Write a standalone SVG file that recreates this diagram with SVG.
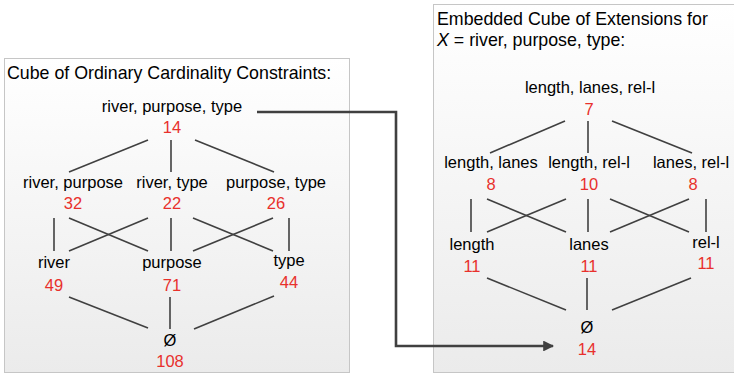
<svg xmlns="http://www.w3.org/2000/svg" width="734" height="373" viewBox="0 0 734 373">
  <defs>
    <linearGradient id="panelFill" x1="0" y1="0" x2="0" y2="1">
      <stop offset="0" stop-color="#ffffff"/>
      <stop offset="1" stop-color="#ebebeb"/>
    </linearGradient>
    <marker id="arrowHead" viewBox="0 0 10 10" refX="9" refY="5" markerWidth="4.2" markerHeight="4.2" orient="auto" markerUnits="strokeWidth">
      <path d="M0,0 L10,5 L0,10 Z" fill="#404040"/>
    </marker>
    <style>
      .panel { fill: url(#panelFill); stroke: #c6c6c6; stroke-width: 1; }
      .title { font-family: "Liberation Sans", Arial, sans-serif; font-size: 17.8px; fill: #000; }
      .lbl { font-family: "Liberation Sans", Arial, sans-serif; font-size: 16.5px; fill: #000; text-anchor: middle; }
      .num { font-family: "Liberation Sans", Arial, sans-serif; font-size: 16.5px; fill: #e8302c; text-anchor: middle; }
      .edge { stroke: #404040; stroke-width: 1.6; fill: none; }
      .link { stroke: #404040; stroke-width: 2.6; fill: none; }
    </style>
  </defs>

  <!-- panels -->
  <rect id="panel-ordinary" class="panel" x="4.5" y="58.5" width="345" height="314"/>
  <rect id="panel-extensions" class="panel" x="433.5" y="4.5" width="302" height="368"/>

  <text class="title" x="7" y="79">Cube of Ordinary Cardinality Constraints:</text>
  <text class="title" x="437" y="25">Embedded Cube of Extensions for</text>
  <text class="title" x="437" y="46"><tspan font-style="italic">X</tspan> = river, purpose, type:</text>

  <!-- lattice edges -->
  <g id="connectors">
    <!-- left cube -->
    <line class="edge" x1="148" y1="140" x2="69" y2="172"/>
    <line class="edge" x1="171" y1="140" x2="171" y2="172"/>
    <line class="edge" x1="195" y1="140" x2="274" y2="172"/>

    <line class="edge" x1="54" y1="218" x2="54" y2="251"/>
    <line class="edge" x1="69" y1="218" x2="148" y2="251"/>
    <line class="edge" x1="148" y1="218" x2="69" y2="251"/>
    <line class="edge" x1="171" y1="218" x2="171" y2="251"/>
    <line class="edge" x1="193" y1="218" x2="273" y2="251"/>
    <line class="edge" x1="273" y1="218" x2="193" y2="251"/>
    <line class="edge" x1="289" y1="218" x2="289" y2="251"/>

    <line class="edge" x1="69" y1="297" x2="148" y2="328"/>
    <line class="edge" x1="170" y1="297" x2="170" y2="329"/>
    <line class="edge" x1="274" y1="296" x2="194" y2="329"/>

    <!-- right cube -->
    <line class="edge" x1="565" y1="121" x2="490" y2="153"/>
    <line class="edge" x1="588" y1="121" x2="588" y2="153"/>
    <line class="edge" x1="612" y1="121" x2="692" y2="153"/>

    <line class="edge" x1="471" y1="199" x2="471" y2="232"/>
    <line class="edge" x1="487" y1="199" x2="566" y2="232"/>
    <line class="edge" x1="566" y1="199" x2="487" y2="232"/>
    <line class="edge" x1="588" y1="199" x2="588" y2="232"/>
    <line class="edge" x1="610" y1="199" x2="689" y2="232"/>
    <line class="edge" x1="689" y1="199" x2="610" y2="232"/>
    <line class="edge" x1="706" y1="199" x2="706" y2="232"/>

    <line class="edge" x1="487" y1="278" x2="566" y2="310"/>
    <line class="edge" x1="587" y1="278" x2="587" y2="310"/>
    <line class="edge" x1="691" y1="278" x2="612" y2="310"/>

    <!-- link from the top of the left cube to the bottom of the right cube -->
    <path class="link" d="M257,112 H396 V346 H553" marker-end="url(#arrowHead)"/>
  </g>

  <!-- left cube nodes -->
  <g id="n-rpt"><text class="lbl" x="172" y="112">river, purpose, type</text><text class="num" x="172" y="133">14</text></g>
  <g id="n-rp"><text class="lbl" x="73" y="188">river, purpose</text><text class="num" x="73" y="209">32</text></g>
  <g id="n-rt"><text class="lbl" x="172" y="188">river, type</text><text class="num" x="172" y="209">22</text></g>
  <g id="n-pt"><text class="lbl" x="276" y="188">purpose, type</text><text class="num" x="276" y="209">26</text></g>
  <g id="n-r"><text class="lbl" x="54" y="268">river</text><text class="num" x="54" y="291">49</text></g>
  <g id="n-p"><text class="lbl" x="172" y="268">purpose</text><text class="num" x="172" y="291">71</text></g>
  <g id="n-t"><text class="lbl" x="289" y="266">type</text><text class="num" x="289" y="288">44</text></g>
  <g id="n-empty-left"><text class="lbl" x="170" y="346">Ø</text><text class="num" x="170" y="367">108</text></g>

  <!-- right cube nodes -->
  <g id="n-llr"><text class="lbl" x="590" y="93">length, lanes, rel-l</text><text class="num" x="589" y="115">7</text></g>
  <g id="n-ll"><text class="lbl" x="491" y="168">length, lanes</text><text class="num" x="491" y="190">8</text></g>
  <g id="n-lr"><text class="lbl" x="589" y="168">length, rel-l</text><text class="num" x="589" y="190">10</text></g>
  <g id="n-nr"><text class="lbl" x="691" y="168">lanes, rel-l</text><text class="num" x="693" y="190">8</text></g>
  <g id="n-len"><text class="lbl" x="472" y="250">length</text><text class="num" x="472" y="272">11</text></g>
  <g id="n-lan"><text class="lbl" x="589" y="250">lanes</text><text class="num" x="589" y="272">11</text></g>
  <g id="n-rel"><text class="lbl" x="706" y="248">rel-l</text><text class="num" x="706" y="269">11</text></g>
  <g id="n-empty-right"><text class="lbl" x="587" y="333">Ø</text><text class="num" x="587" y="355">14</text></g>
</svg>
